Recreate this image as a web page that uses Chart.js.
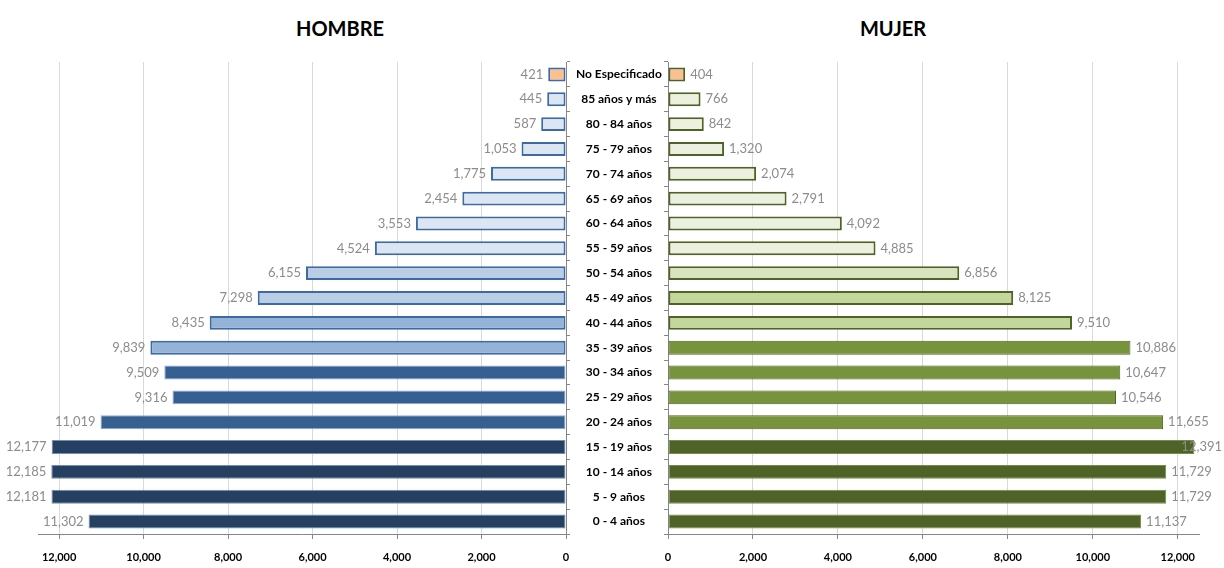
<!DOCTYPE html>
<html>
  <head>
    <meta charset="utf-8" />
    <title>Población por grupo de edad y sexo</title>
    <script src="https://cdn.jsdelivr.net/npm/chart.js@4"></script>
    <style>
      body { margin: 0; background: #fff; }
      #lienzo { position: relative; width: 1224px; height: 568px; }
      .titulo {
        position: absolute; top: 16px; font: bold 20px Lato, sans-serif;
        color: #000; transform: translateX(-50%);
      }
      .panel { position: absolute; top: 0; height: 568px; }
    </style>
  </head>
  <body>
    <div id="lienzo">
      <div class="titulo" style="left: 340px">HOMBRE</div>
      <div class="titulo" style="left: 893px">MUJER</div>
      <div class="panel" style="left: 0; width: 668px"><canvas id="izq"></canvas></div>
      <div class="panel" style="left: 660px; width: 564px"><canvas id="der"></canvas></div>
    </div>

    <script>
      const categorias = [
        "No Especificado", "85 años y más", "80 - 84 años", "75 - 79 años",
        "70 - 74 años", "65 - 69 años", "60 - 64 años", "55 - 59 años",
        "50 - 54 años", "45 - 49 años", "40 - 44 años", "35 - 39 años",
        "30 - 34 años", "25 - 29 años", "20 - 24 años", "15 - 19 años",
        "10 - 14 años", "5 - 9 años", "0 - 4 años"
      ];
      const hombres = [421, 445, 587, 1053, 1775, 2454, 3553, 4524, 6155, 7298,
        8435, 9839, 9509, 9316, 11019, 12177, 12185, 12181, 11302];
      const mujeres = [404, 766, 842, 1320, 2074, 2791, 4092, 4885, 6856, 8125,
        9510, 10886, 10647, 10546, 11655, 12391, 11729, 11729, 11137];
      const marcas = [0, 2000, 4000, 6000, 8000, 10000, 12000];

      // colores por grupo de edad
      const rellenoH = ["#FAC090", "#DCE6F2", "#DCE6F2", "#DCE6F2", "#DCE6F2", "#DCE6F2",
        "#DCE6F2", "#DCE6F2", "#B9CDE5", "#B9CDE5", "#95B3D7", "#95B3D7",
        "#376092", "#376092", "#376092", "#254061", "#254061", "#254061", "#254061"];
      const bordeH = rellenoH.map((c, i) => i < 12 ? "#3d6aa5" : (i < 15 ? "#8eaad0" : "#6f8fb8"));
      const grosorH = rellenoH.map((c, i) => i < 12 ? 2 : 1);
      const rellenoM = ["#FAC090", "#EBF1DE", "#EBF1DE", "#EBF1DE", "#EBF1DE", "#EBF1DE",
        "#EBF1DE", "#EBF1DE", "#D7E4BD", "#C3D69B", "#C3D69B", "#77933C",
        "#77933C", "#77933C", "#77933C", "#4F6228", "#4F6228", "#4F6228", "#4F6228"];
      const bordeM = rellenoM.map((c, i) => i < 15 ? "#4F6228" : "#718f45");
      const grosorM = rellenoM.map((c, i) => i < 11 ? 2 : 1);

      const formato = (v) => Number(v).toLocaleString("en-US");

      const etiquetas = {
        id: "etiquetas",
        afterDatasetsDraw(chart, args, opts) {
          const ctx = chart.ctx;
          const datos = chart.data.datasets[0].data;
          ctx.save();
          ctx.font = "13px Lato, sans-serif";
          ctx.fillStyle = "#8c8c8c";
          ctx.textBaseline = "middle";
          chart.getDatasetMeta(0).data.forEach((barra, i) => {
            const txt = formato(datos[i]);
            const w = ctx.measureText(txt).width;
            if (opts.lado == "izq") {
              ctx.textAlign = "right";
              ctx.fillText(txt, barra.x - 5, barra.y);
            } else {
              ctx.textAlign = "left";
              ctx.fillText(txt, Math.min(barra.x + 5, chart.width - w - 2), barra.y);
            }
          });
          ctx.restore();
        },
      };

      function ejeX(invertido) {
        return {
          type: "linear",
          reverse: invertido,
          min: 0,
          max: 12500,
          afterBuildTicks: (s) => { s.ticks = marcas.map((v) => ({ value: v })); },
          ticks: {
            padding: 12,
            color: "#000",
            font: { family: "Lato", weight: "bold", size: 11 },
            callback: (v) => formato(v),
          },
          grid: { color: "#d9d9d9", tickColor: "#868686", tickLength: 5 },
          border: { color: "#868686" },
          afterFit: (s) => {
            s.height = 34;
            s.paddingLeft = 0;
            s.paddingRight = 0;
          },
        };
      }

      function dataset(valores, relleno, borde, grosor) {
        return {
          data: valores,
          backgroundColor: relleno,
          borderColor: borde,
          borderWidth: grosor,
          borderSkipped: false,
          barPercentage: 0.56,
          categoryPercentage: 1,
        };
      }

      new Chart(document.getElementById("izq"), {
        type: "bar",
        data: { labels: categorias, datasets: [dataset(hombres, rellenoH, bordeH, grosorH)] },
        plugins: [etiquetas],
        options: {
          indexAxis: "y",
          responsive: true,
          maintainAspectRatio: false,
          animation: false,
          layout: { padding: { left: 38, top: 62, right: 0, bottom: 0 } },
          plugins: { legend: { display: false }, tooltip: { enabled: false }, etiquetas: { lado: "izq" } },
          scales: {
            x: ejeX(true),
            y: {
              position: "right",
              grid: { drawOnChartArea: false, tickLength: 4, tickColor: "#868686" },
              border: { color: "#868686" },
              ticks: {
                crossAlign: "center",
                padding: 6,
                autoSkip: false,
                color: "#000",
                font: { family: "Lato", weight: "bold", size: 12 },
              },
              afterFit: (s) => { s.width = 102; },
            },
          },
        },
      });

      new Chart(document.getElementById("der"), {
        type: "bar",
        data: { labels: categorias, datasets: [dataset(mujeres, rellenoM, bordeM, grosorM)] },
        plugins: [etiquetas],
        options: {
          indexAxis: "y",
          responsive: true,
          maintainAspectRatio: false,
          animation: false,
          layout: { padding: { left: 0, top: 62, right: 25, bottom: 0 } },
          plugins: { legend: { display: false }, tooltip: { enabled: false }, etiquetas: { lado: "der" } },
          scales: {
            x: ejeX(false),
            y: {
              position: "left",
              grid: { drawOnChartArea: false, tickLength: 4, tickColor: "#868686" },
              border: { color: "#868686" },
              ticks: { display: false },
              afterFit: (s) => { s.width = 8; },
            },
          },
        },
      });
    </script>
  </body>
</html>
